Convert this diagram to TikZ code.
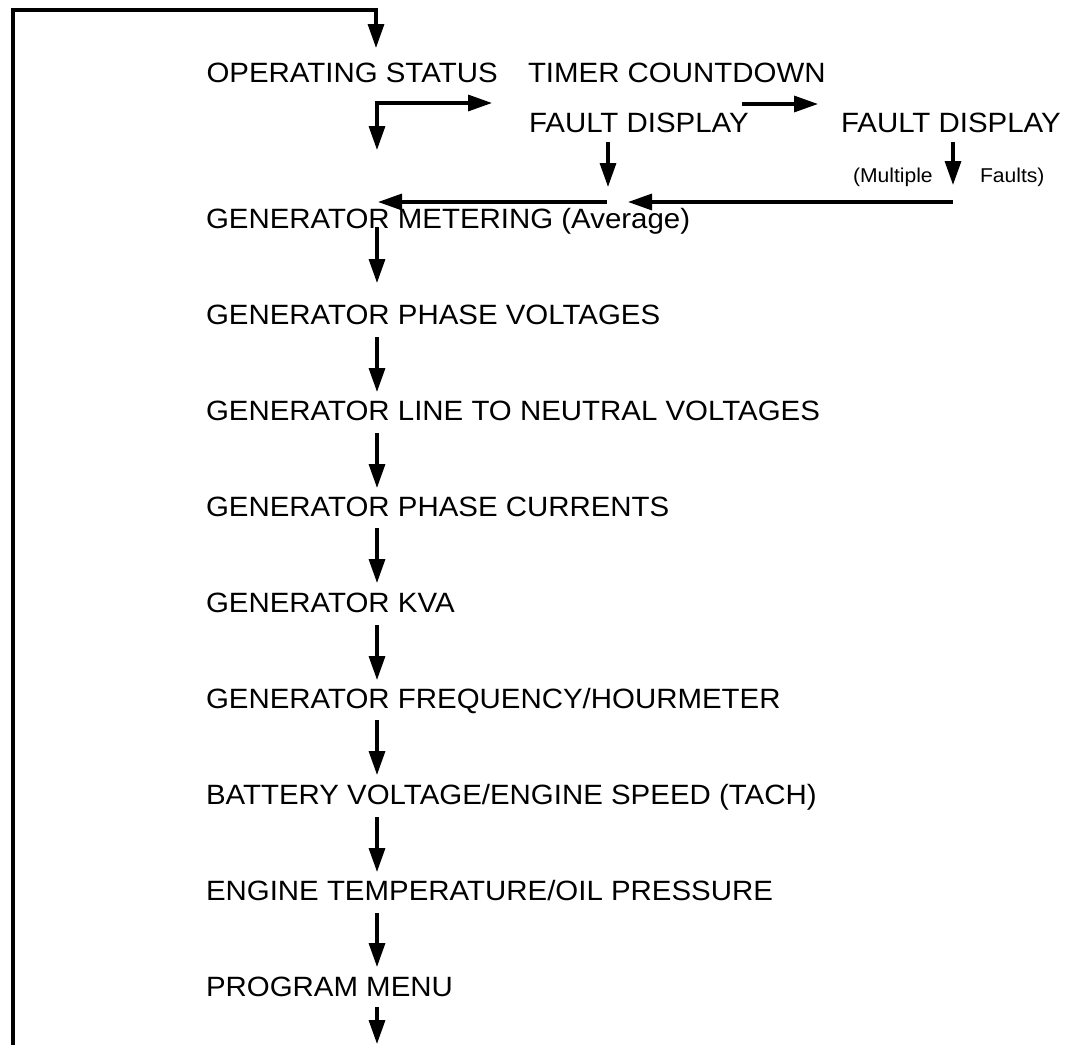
\documentclass[tikz,border=0pt]{standalone}
\usepackage{fontspec}
\setmainfont{Liberation Sans}[FakeStretch=1.055]
\usetikzlibrary{arrows.meta}
\begin{document}
\begin{tikzpicture}[x=1pt,y=-1pt,
  lbl/.style={anchor=base west,inner sep=0pt,outer sep=0pt,font=\fontsize{27.9}{30}\selectfont},
  small/.style={anchor=base west,inner sep=0pt,outer sep=0pt,font=\fontsize{20}{22}\selectfont},
  conn/.style={line width=3.3pt,-{Triangle[length=24pt,width=16pt]}},
  loop/.style={line width=3.3pt,line cap=rect,-{Triangle[length=24pt,width=16pt]}},
  split/.style={line width=3.3pt,{Triangle[length=24pt,width=16pt]}-{Triangle[length=24pt,width=16pt]}}]
\useasboundingbox (0,0) rectangle (1075,1044);
% texts
\node[lbl] (os) at (206.5,82) {OPERATING STATUS};
\node[lbl] (tc) at (528,82) {TIMER COUNTDOWN};
\node[lbl] (fd1) at (529,132) {FAULT DISPLAY};
\node[lbl] (fd2) at (841,132) {FAULT DISPLAY};
\node[small] (mult) at (853,182) {(Multiple};
\node[small] (flts) at (980,182) {Faults)};
\node[lbl] (r1) at (206,228) {GENERATOR METERING (Average)};
\node[lbl] (r2) at (206,324) {GENERATOR PHASE VOLTAGES};
\node[lbl] (r3) at (206,420) {GENERATOR LINE TO NEUTRAL VOLTAGES};
\node[lbl] (r4) at (206,516) {GENERATOR PHASE CURRENTS};
\node[lbl] (r5) at (206,612) {GENERATOR KVA};
\node[lbl] (r6) at (206,708) {GENERATOR FREQUENCY/HOURMETER};
\node[lbl] (r7) at (206,804) {BATTERY VOLTAGE/ENGINE SPEED (TACH)};
\node[lbl] (r8) at (206,900) {ENGINE TEMPERATURE/OIL PRESSURE};
\node[lbl] (r9) at (206,996) {PROGRAM MENU};
% connector end points
\coordinate (lb) at (13,1045);
\coordinate (lt) at (13,10);
\coordinate (ot) at (376,48);
\coordinate (sc) at (377,103);
\coordinate (sr) at (492,103);
\coordinate (sd) at (377,150);
\coordinate (f1a) at (742,104);
\coordinate (f1b) at (818,104);
\coordinate (d1a) at (608,142);
\coordinate (d1b) at (608,187);
\coordinate (d2a) at (953,142);
\coordinate (d2b) at (953,185);
\coordinate (h2a) at (953,202);
\coordinate (h2b) at (628,202);
\coordinate (h1a) at (607,202);
\coordinate (h1b) at (378,202);
\coordinate (a1s) at (377,227);  \coordinate (a1e) at (377,283);
\coordinate (a2s) at (377,337);  \coordinate (a2e) at (377,392);
\coordinate (a3s) at (377,433);  \coordinate (a3e) at (377,488);
\coordinate (a4s) at (377,528);  \coordinate (a4e) at (377,583);
\coordinate (a5s) at (377,625);  \coordinate (a5e) at (377,680);
\coordinate (a6s) at (377,720);  \coordinate (a6e) at (377,775);
\coordinate (a7s) at (377,817);  \coordinate (a7e) at (377,872);
\coordinate (a8s) at (377,913);  \coordinate (a8e) at (377,967);
\coordinate (a9s) at (377,1007); \coordinate (a9e) at (377,1044);
% connectors
\draw[loop] (lb) -- (lt) -| (ot);
\draw[split] (sr) -- (sc) -- (sd);
\draw[conn] (f1a) -- (f1b);
\draw[conn] (d1a) -- (d1b);
\draw[conn] (d2a) -- (d2b);
\draw[conn] (h2a) -- (h2b);
\draw[conn] (h1a) -- (h1b);
\foreach \i in {1,...,9} {\draw[conn] (a\i s) -- (a\i e);}
\end{tikzpicture}
\end{document}
